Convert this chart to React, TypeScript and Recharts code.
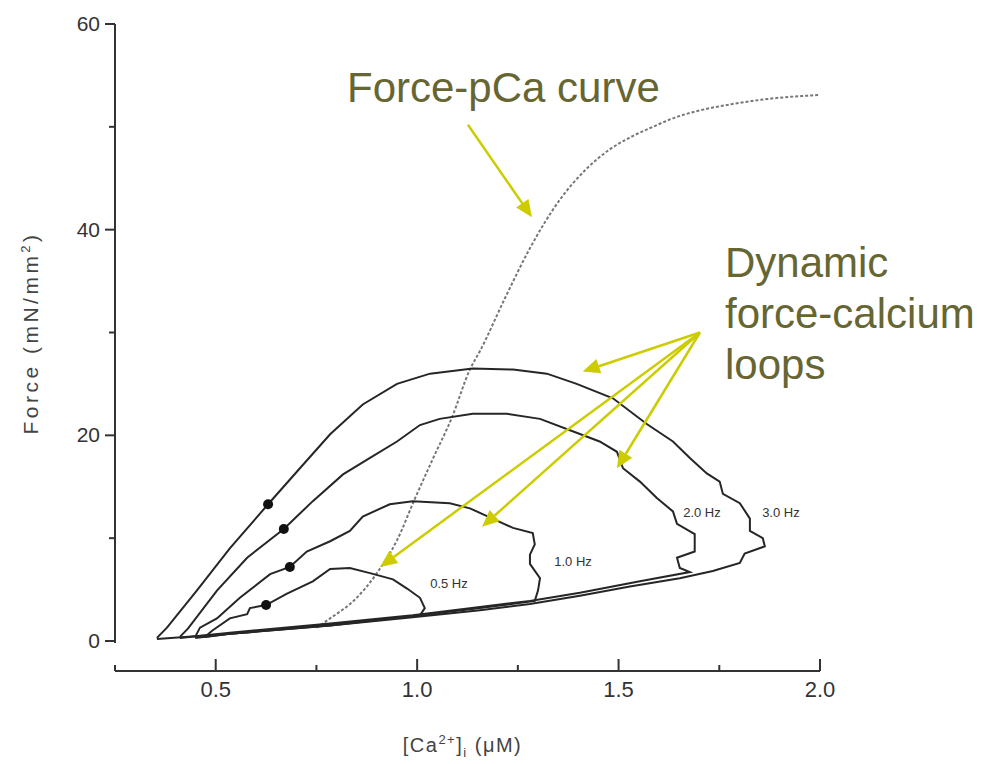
import { ComposedChart, Line, Scatter, XAxis, YAxis, ReferenceLine } from 'recharts';

const FONT = '"Liberation Sans", Arial, Helvetica, sans-serif';

// axis ticks
const xTicks = [0.25, 0.5, 0.75, 1.0, 1.25, 1.5, 1.75, 2.0];
const xMajor = [0.5, 1.0, 1.5, 2.0];
const yTicks = [0, 10, 20, 30, 40, 50, 60];
const yMajor = [0, 20, 40, 60];

// steady-state force-pCa relation
const pCaCurve = [
  { x: 0.75, y: 1.3 }, { x: 0.784, y: 2.2 }, { x: 0.85, y: 4.2 },
  { x: 0.9, y: 6.6 }, { x: 0.95, y: 9.8 }, { x: 0.994, y: 13.8 }, { x: 1.04, y: 17.8 },
  { x: 1.086, y: 21.7 }, { x: 1.131, y: 26.4 }, { x: 1.156, y: 28.2 }, { x: 1.22, y: 33.5 },
  { x: 1.28, y: 38.2 }, { x: 1.354, y: 42.9 }, { x: 1.42, y: 45.9 }, { x: 1.478, y: 47.8 },
  { x: 1.53, y: 49.0 }, { x: 1.585, y: 50.0 }, { x: 1.64, y: 50.9 }, { x: 1.702, y: 51.6 },
  { x: 1.78, y: 52.2 }, { x: 1.868, y: 52.7 }, { x: 2.0, y: 53.1 },
];

// dynamic loops (in drawing order, rise -> peak -> relaxation)
const loop30 = [
  { x: 0.354, y: 0.3 }, { x: 0.379, y: 1.3 }, { x: 0.453, y: 4.9 }, { x: 0.535, y: 9.0 },
  { x: 0.63, y: 13.3 }, { x: 0.709, y: 16.8 }, { x: 0.784, y: 20.1 }, { x: 0.865, y: 23.0 },
  { x: 0.95, y: 25.0 }, { x: 1.032, y: 26.0 }, { x: 1.138, y: 26.5 }, { x: 1.238, y: 26.4 },
  { x: 1.322, y: 26.0 }, { x: 1.396, y: 25.0 }, { x: 1.486, y: 23.6 }, { x: 1.57, y: 21.1 },
  { x: 1.635, y: 19.4 }, { x: 1.677, y: 17.8 }, { x: 1.719, y: 16.3 }, { x: 1.751, y: 15.5 },
  { x: 1.759, y: 14.3 }, { x: 1.801, y: 13.4 }, { x: 1.826, y: 11.9 }, { x: 1.826, y: 10.7 },
  { x: 1.858, y: 10.0 }, { x: 1.863, y: 9.2 }, { x: 1.813, y: 8.5 }, { x: 1.801, y: 7.6 },
  { x: 1.734, y: 6.8 }, { x: 1.652, y: 6.1 }, { x: 1.528, y: 5.3 }, { x: 1.404, y: 4.4 },
  { x: 1.28, y: 3.6 }, { x: 1.156, y: 3.0 }, { x: 0.989, y: 2.3 }, { x: 0.784, y: 1.5 },
  { x: 0.535, y: 0.7 }, { x: 0.354, y: 0.2 },
];

const loop20 = [
  { x: 0.411, y: 0.4 }, { x: 0.431, y: 1.2 }, { x: 0.503, y: 4.9 }, { x: 0.578, y: 8.1 },
  { x: 0.669, y: 10.9 }, { x: 0.741, y: 13.6 }, { x: 0.816, y: 16.2 }, { x: 0.883, y: 17.8 },
  { x: 0.95, y: 19.4 }, { x: 1.007, y: 21.0 }, { x: 1.056, y: 21.6 }, { x: 1.138, y: 22.1 },
  { x: 1.223, y: 22.1 }, { x: 1.305, y: 21.6 }, { x: 1.386, y: 20.4 }, { x: 1.453, y: 19.4 },
  { x: 1.496, y: 18.4 }, { x: 1.511, y: 16.8 }, { x: 1.553, y: 15.5 }, { x: 1.595, y: 13.9 },
  { x: 1.635, y: 12.6 }, { x: 1.645, y: 11.4 }, { x: 1.689, y: 10.4 }, { x: 1.689, y: 8.7 },
  { x: 1.645, y: 8.1 }, { x: 1.652, y: 7.1 }, { x: 1.677, y: 6.7 }, { x: 1.553, y: 5.8 },
  { x: 1.404, y: 4.7 }, { x: 1.28, y: 3.9 }, { x: 1.156, y: 3.3 }, { x: 0.989, y: 2.5 },
  { x: 0.784, y: 1.7 }, { x: 0.535, y: 0.8 }, { x: 0.411, y: 0.3 },
];

const loop10 = [
  { x: 0.449, y: 0.4 }, { x: 0.461, y: 1.3 }, { x: 0.503, y: 2.2 }, { x: 0.56, y: 4.2 },
  { x: 0.635, y: 6.5 }, { x: 0.684, y: 7.2 }, { x: 0.726, y: 8.7 }, { x: 0.784, y: 9.7 },
  { x: 0.833, y: 10.7 }, { x: 0.865, y: 12.1 }, { x: 0.932, y: 13.3 }, { x: 0.989, y: 13.6 },
  { x: 1.081, y: 13.4 }, { x: 1.131, y: 12.9 }, { x: 1.198, y: 11.7 }, { x: 1.238, y: 11.0 },
  { x: 1.287, y: 10.5 }, { x: 1.292, y: 9.4 }, { x: 1.28, y: 8.4 }, { x: 1.28, y: 7.5 },
  { x: 1.305, y: 6.1 }, { x: 1.3, y: 4.9 }, { x: 1.292, y: 3.9 }, { x: 1.156, y: 3.2 },
  { x: 0.989, y: 2.4 }, { x: 0.784, y: 1.6 }, { x: 0.535, y: 0.7 }, { x: 0.449, y: 0.3 },
];

const loop05 = [
  { x: 0.473, y: 0.4 }, { x: 0.491, y: 1.0 }, { x: 0.535, y: 2.2 }, { x: 0.578, y: 2.6 },
  { x: 0.585, y: 3.2 }, { x: 0.625, y: 3.5 }, { x: 0.677, y: 4.6 }, { x: 0.741, y: 5.8 },
  { x: 0.784, y: 7.0 }, { x: 0.833, y: 7.1 }, { x: 0.883, y: 6.6 }, { x: 0.94, y: 6.0 },
  { x: 0.975, y: 5.1 }, { x: 1.007, y: 4.2 }, { x: 1.019, y: 3.2 }, { x: 1.007, y: 2.5 },
  { x: 0.784, y: 1.5 }, { x: 0.535, y: 0.7 }, { x: 0.473, y: 0.4 },
];

// filled markers on the rising branches
const markers = [
  { x: 0.63, y: 13.3 }, { x: 0.669, y: 10.9 }, { x: 0.684, y: 7.2 }, { x: 0.625, y: 3.5 },
];

const loopLabels = [
  { x: 1.079, y: 5.6, text: '0.5 Hz' },
  { x: 1.387, y: 7.7, text: '1.0 Hz' },
  { x: 1.707, y: 12.5, text: '2.0 Hz' },
  { x: 1.903, y: 12.5, text: '3.0 Hz' },
];

// annotation arrows: [from, to] in data units
const arrows = [
  [{ x: 1.126, y: 50.2 }, { x: 1.285, y: 41.2 }],
  [{ x: 1.702, y: 30.0 }, { x: 1.411, y: 26.2 }],
  [{ x: 1.702, y: 30.0 }, { x: 1.496, y: 16.8 }],
  [{ x: 1.702, y: 30.0 }, { x: 1.161, y: 11.1 }],
  [{ x: 1.702, y: 30.0 }, { x: 0.908, y: 7.2 }],
];

const ARROW = '#cccc00';
const OLIVE = '#666633';
const LOOP = '#262626';

const XTick = (props: any) => {
  const { x, y, payload } = props;
  const v = payload.value;
  const major = xMajor.includes(v);
  return (
    <g>
      <line x1={x} y1={y} x2={x} y2={y - (major ? 12 : 6)} stroke="#333" strokeWidth={2} />
      {major && (
        <text x={x} y={y + 26} textAnchor="middle" fontSize={22} fill="#333" fontFamily={FONT}>
          {v.toFixed(1)}
        </text>
      )}
    </g>
  );
};

const YTick = (props: any) => {
  const { x, y, payload } = props;
  const v = payload.value;
  const major = yMajor.includes(v);
  return (
    <g>
      <line x1={x - (major ? 10 : 6)} y1={y} x2={x} y2={y} stroke="#333" strokeWidth={2} />
      {major && (
        <text x={x - 15} y={y + 7} textAnchor="end" fontSize={21} fill="#333" fontFamily={FONT}>
          {v}
        </text>
      )}
    </g>
  );
};

const XTitle = (props: any) => {
  const vb = props.viewBox;
  return (
    <text x={vb.x + vb.width / 2 - 5} y={vb.y + 81} textAnchor="middle" fontSize={20}
      fill="#444" fontFamily={FONT} letterSpacing={1.5}>
      [Ca<tspan dy={-8} fontSize={13}>2+</tspan>
      <tspan dy={8}>]</tspan>
      <tspan dy={5} fontSize={13}>i</tspan>
      <tspan dy={-5}> (μM)</tspan>
    </text>
  );
};

const YTitle = () => (
  <text x={38} y={333} transform="rotate(-90, 38, 333)" textAnchor="middle" fontSize={21}
    fill="#444" fontFamily={FONT} letterSpacing={3.5}>
    Force (mN/mm<tspan dy={-8} fontSize={13}>2</tspan>
    <tspan dy={8}>)</tspan>
  </text>
);

const ArrowShape = (p: any) => {
  const { x1, y1, x2, y2 } = p;
  const a = Math.atan2(y2 - y1, x2 - x1);
  const len = 17;
  const hw = 7.5;
  const bx = x2 - len * Math.cos(a);
  const by = y2 - len * Math.sin(a);
  const pts = `${x2},${y2} ${bx - hw * Math.sin(a)},${by + hw * Math.cos(a)} ${bx + hw * Math.sin(a)},${by - hw * Math.cos(a)}`;
  return (
    <g>
      <line x1={x1} y1={y1} x2={bx} y2={by} stroke={ARROW} strokeWidth={2.5} />
      <polygon points={pts} fill={ARROW} />
    </g>
  );
};

const Marker = (p: any) => <circle cx={p.cx} cy={p.cy} r={5} fill="#111" />;

const HzLabel = (p: any) => (
  <text x={p.cx} y={p.cy + 4.5} textAnchor="middle" fontSize={13} fill="#333" fontFamily={FONT}>
    {p.payload?.text}
  </text>
);

export default function App() {
  return (
    <div style={{ position: 'absolute', left: 0, top: 0, width: 994, height: 764, background: '#fff' }}>
      <ComposedChart width={994} height={764} margin={{ top: 24, right: 174, bottom: 0, left: 0 }}>
        <XAxis
          type="number"
          dataKey="x"
          domain={[0.25, 2.0]}
          ticks={xTicks}
          interval={0}
          allowDataOverflow
          height={93}
          axisLine={{ stroke: '#333', strokeWidth: 2 }}
          tickLine={false}
          tickSize={0}
          tickMargin={0}
          tick={<XTick />}
          label={<XTitle />}
        />
        <YAxis
          type="number"
          dataKey="y"
          domain={[0, 60]}
          ticks={yTicks}
          interval={0}
          allowDataOverflow
          width={115}
          padding={{ top: 0, bottom: 30 }}
          axisLine={false}
          tickLine={false}
          tickSize={0}
          tickMargin={0}
          tick={<YTick />}
          label={<YTitle />}
        />
        <ReferenceLine
          segment={[{ x: 0.25, y: -0.2 }, { x: 0.25, y: 60 }]}
          stroke="#333"
          strokeWidth={2}
          ifOverflow="visible"
        />

        <Line data={pCaCurve} dataKey="y" type="monotone" dot={false} stroke="#777"
          strokeWidth={2} strokeDasharray="3 2" isAnimationActive={false} />
        <Line data={loop30} dataKey="y" type="linear" dot={false} stroke={LOOP}
          strokeWidth={2} isAnimationActive={false} />
        <Line data={loop20} dataKey="y" type="linear" dot={false} stroke={LOOP}
          strokeWidth={2} isAnimationActive={false} />
        <Line data={loop10} dataKey="y" type="linear" dot={false} stroke={LOOP}
          strokeWidth={2} isAnimationActive={false} />
        <Line data={loop05} dataKey="y" type="linear" dot={false} stroke={LOOP}
          strokeWidth={2} isAnimationActive={false} />
        <Scatter data={markers} dataKey="y" shape={<Marker />} isAnimationActive={false} />
        <Scatter data={loopLabels} dataKey="y" shape={<HzLabel />} isAnimationActive={false} />

        {arrows.map((seg, i) => (
          <ReferenceLine key={i} segment={seg} ifOverflow="visible" shape={ArrowShape} />
        ))}
      </ComposedChart>

      <div style={{ position: 'absolute', left: 347, top: 62, fontSize: 42, lineHeight: '51px',
        color: OLIVE, fontFamily: FONT, whiteSpace: 'nowrap' }}>
        Force-pCa curve
      </div>
      <div style={{ position: 'absolute', left: 725, top: 237, fontSize: 42, lineHeight: '51px',
        color: OLIVE, fontFamily: FONT, whiteSpace: 'nowrap' }}>
        Dynamic<br />force-calcium<br />loops
      </div>
    </div>
  );
}
